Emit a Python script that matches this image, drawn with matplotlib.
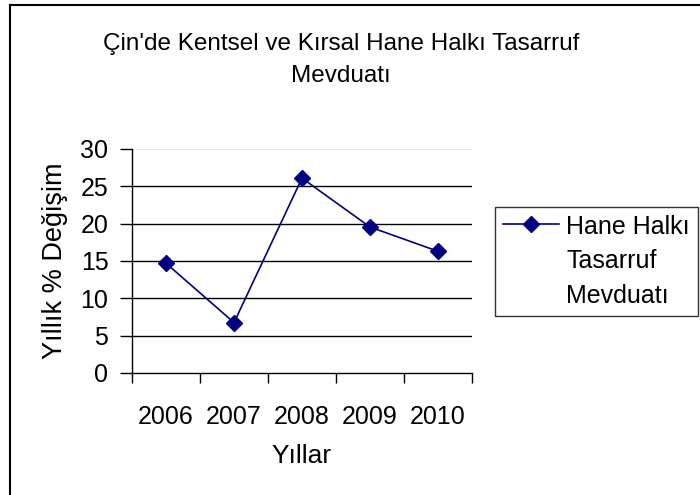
import matplotlib
matplotlib.use("Agg")
import matplotlib.pyplot as plt
from matplotlib.lines import Line2D

plt.rcParams['font.family'] = ['Liberation Sans', 'DejaVu Sans']

years = ["2006", "2007", "2008", "2009", "2010"]
values = [14.7, 6.75, 26.1, 19.55, 16.3]
yticks = [0, 5, 10, 15, 20, 25, 30]
title = "Çin'de Kentsel ve Kırsal Hane Halkı Tasarruf\nMevduatı"
ylabel = "Yıllık % Değişim"
xlabel = "Yıllar"
series_label = "Hane Halkı\nTasarruf\nMevduatı"

FS = 18
fig = plt.figure(figsize=(7.0, 4.95), dpi=100)
ax = fig.add_axes([132/700, 1-373/495, (472-132)/700, (373-149)/495])

x = list(range(len(years)))
line, = ax.plot(x, values, color='#000080', lw=1.2, marker='D', markersize=8,
                markerfacecolor='#000080', markeredgecolor='#000080', zorder=3)

ax.set_xlim(-0.5, len(years)-0.5)
ax.set_ylim(0, 30)
for yv in yticks[1:-1]:
    ax.axhline(yv, color='black', lw=1.0, zorder=1)
ax.axhline(yticks[-1], color='#e6e6e6', lw=1.0, zorder=1)

ax.set_yticks(yticks)
ax.set_yticklabels([str(v) for v in yticks], fontsize=FS)
ax.tick_params(axis='y', direction='out', length=9, width=1, pad=8)

ax.set_xticks([i - 0.5 for i in range(len(years)+1)])
ax.set_xticklabels([''] * (len(years)+1))
ax.set_xticks(x, minor=True)
ax.set_xticklabels(years, minor=True, fontsize=FS)
ax.tick_params(axis='x', which='major', direction='out', length=7, width=1)
ax.tick_params(axis='x', which='minor', length=0, pad=23)

for s in ['top', 'right']:
    ax.spines[s].set_visible(False)
for s in ['left', 'bottom']:
    ax.spines[s].set_linewidth(1.0)

ax.set_ylabel(ylabel, fontsize=19.5, labelpad=9)
ax.set_xlabel(xlabel, fontsize=19, labelpad=11)

fig.text(341/700, 1-60/495, title, ha='center', va='center', fontsize=17.5,
         linespacing=1.6)

leg = ax.legend([line], [series_label], loc='upper left',
                bbox_to_anchor=(495/700, 1-207/495), bbox_transform=fig.transFigure,
                borderaxespad=0, fontsize=FS, frameon=True, fancybox=False,
                edgecolor='black', handlelength=2.25, handletextpad=0.28,
                borderpad=0.32, labelspacing=0.2)
leg.get_frame().set_linewidth(1.0)
for t in leg.get_texts():
    t.set_linespacing(1.55)
try:
    for col in leg._legend_handle_box.get_children():
        for item in col.get_children():
            item.align = 'top'
except Exception:
    pass

# outer chart border (top and left visible)
fig.add_artist(Line2D([9.5/700, 9.5/700], [0, 1-4.5/495], transform=fig.transFigure,
                      color='black', lw=1.5))
fig.add_artist(Line2D([9.5/700, 1], [1-4.5/495, 1-4.5/495], transform=fig.transFigure,
                      color='black', lw=1.5))

fig.savefig("out.png", dpi=100)
